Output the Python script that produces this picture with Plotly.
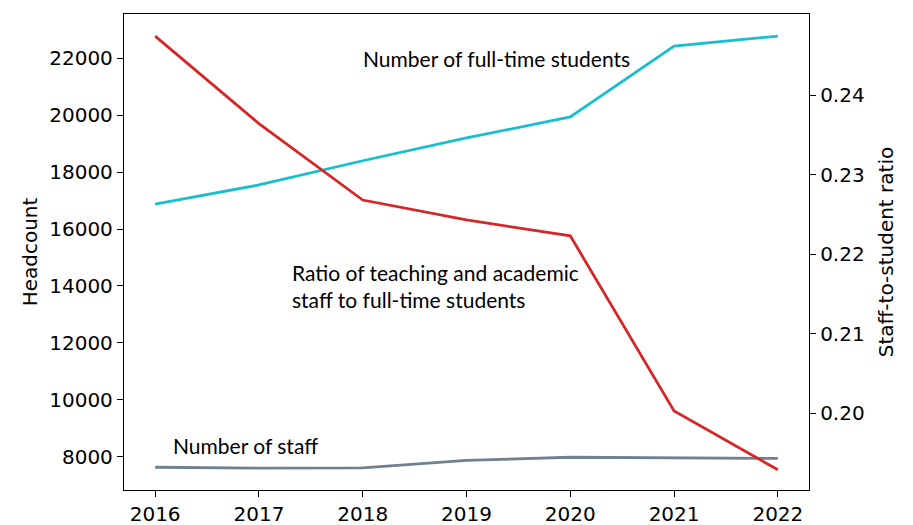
import plotly.graph_objects as go
from plotly.subplots import make_subplots

years = [2016, 2017, 2018, 2019, 2020, 2021, 2022]
students = [16880, 17550, 18400, 19200, 19940, 22430, 22780]
staff = [7630, 7600, 7610, 7870, 7980, 7970, 7940]
ratio = [0.2474, 0.2364, 0.2268, 0.2243, 0.2223, 0.2003, 0.1929]

fig = make_subplots(specs=[[{"secondary_y": True}]])

fig.add_trace(
    go.Scatter(x=years, y=students, mode="lines", name="Students",
               line=dict(color="#17becf", width=2.8)),
    secondary_y=False,
)
fig.add_trace(
    go.Scatter(x=years, y=staff, mode="lines", name="Staff",
               line=dict(color="#708090", width=2.8)),
    secondary_y=False,
)
fig.add_trace(
    go.Scatter(x=years, y=ratio, mode="lines", name="Ratio",
               line=dict(color="#d62728", width=2.8)),
    secondary_y=True,
)

# text labels next to the lines
note_font = dict(family="Lato, Open Sans, sans-serif", size=21, color="black")
fig.add_annotation(x=2017.98, y=22000, xref="x", yref="y", text="Number of full-time students",
                   showarrow=False, xanchor="left", yanchor="middle", font=note_font)
fig.add_annotation(x=2017.3, y=14000, xref="x", yref="y",
                   text="Ratio of teaching and academic<br>staff to full-time students",
                   showarrow=False, xanchor="left", yanchor="middle", align="left", font=note_font)
fig.add_annotation(x=2016.15, y=8390, xref="x", yref="y", text="Number of staff",
                   showarrow=False, xanchor="left", yanchor="middle", font=note_font)

# page body has an 8px margin, so the figure is shrunk by that much
fig.update_layout(
    width=905, height=517,
    margin=dict(l=116, r=104, t=6, b=35),
    plot_bgcolor="white", paper_bgcolor="white",
    showlegend=False,
    font=dict(family="DejaVu Sans", size=20, color="black"),
)

axis_style = dict(showgrid=False, zeroline=False, showline=True, linecolor="black", linewidth=1.3,
                  ticks="outside", ticklen=6, tickwidth=1.3, tickcolor="black",
                  tickfont=dict(family="DejaVu Sans", size=20, color="black"))
title_font = dict(family="DejaVu Sans", size=20, color="black")

fig.update_xaxes(range=[2015.7, 2022.3], tickvals=years, mirror=True, domain=[0, 1],
                 automargin=False, **axis_style)
fig.update_yaxes(title=dict(text="Headcount", font=title_font, standoff=6), range=[6830, 23557],
                 dtick=2000, tickformat="d", automargin=True, secondary_y=False, **axis_style)
fig.update_yaxes(title_text="Staff-to-student ratio", title_font=title_font, range=[0.19036, 0.25018],
                 tickvals=[0.20, 0.21, 0.22, 0.23, 0.24], ticktext=["0.20", "0.21", "0.22", "0.23", "0.24"],
                 automargin=False, secondary_y=True, **axis_style)

fig.write_html("out.html")
